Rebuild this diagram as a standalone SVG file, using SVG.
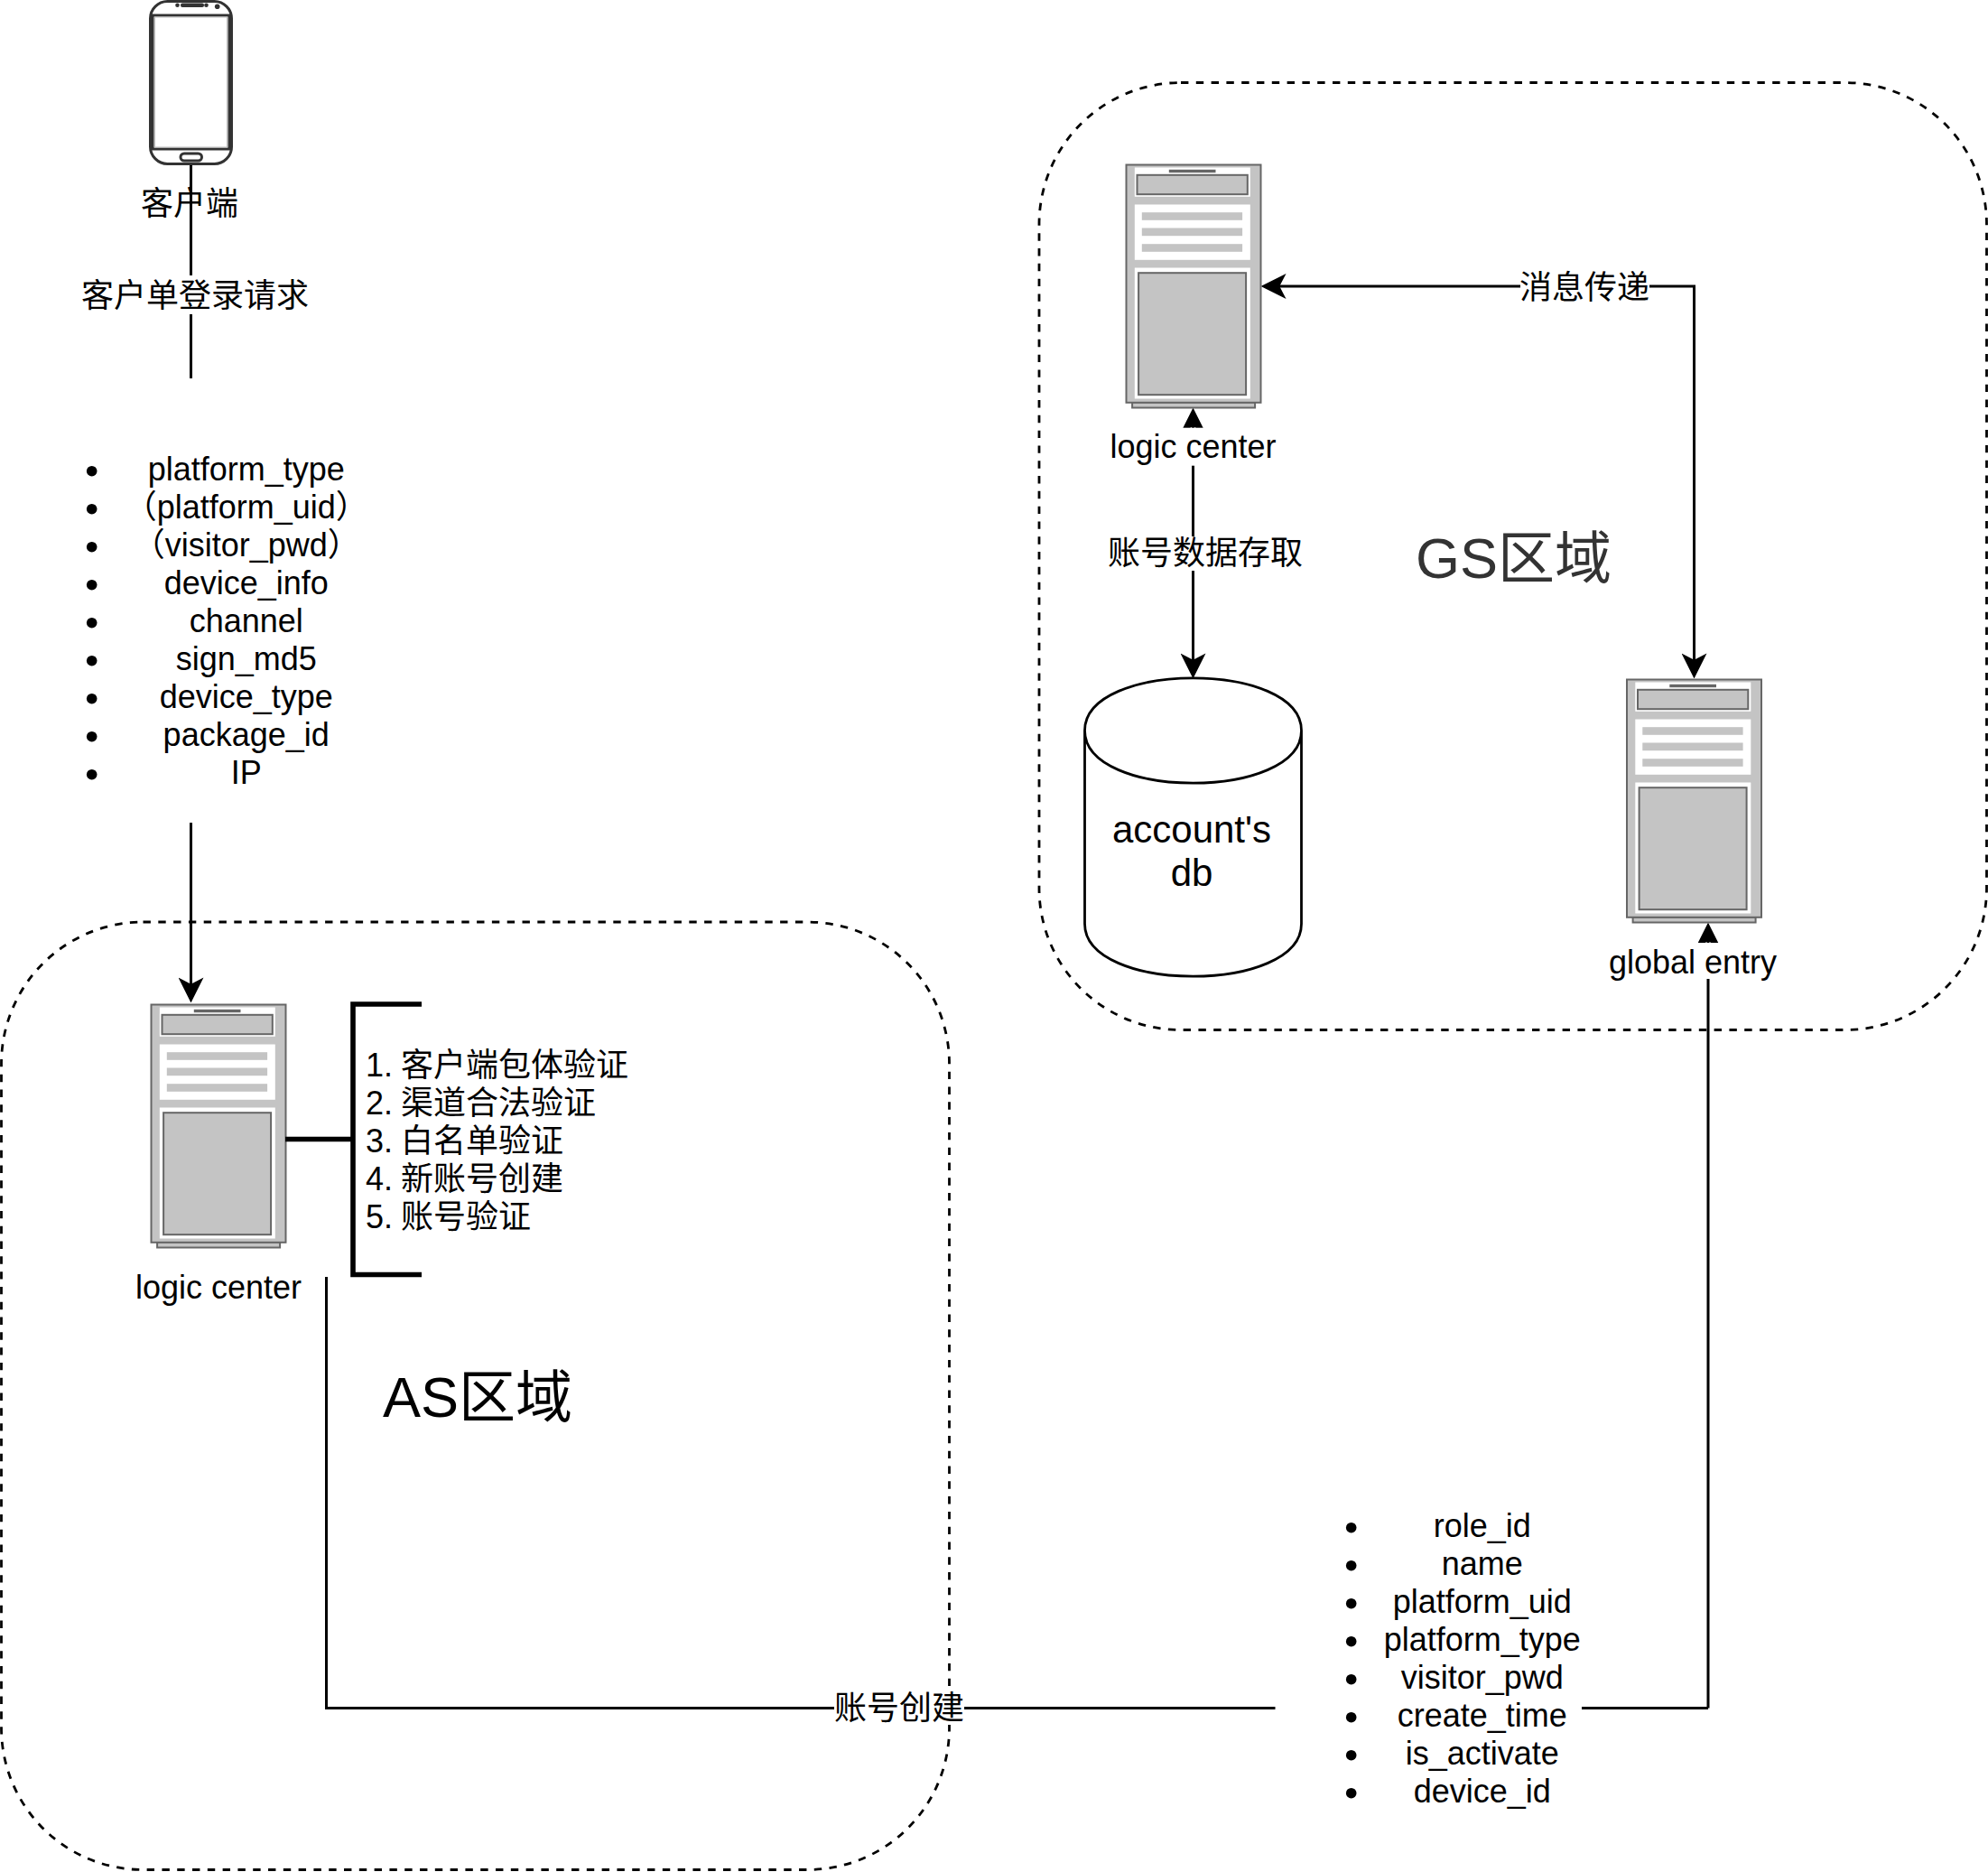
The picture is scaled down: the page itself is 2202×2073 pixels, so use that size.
<svg xmlns="http://www.w3.org/2000/svg" xmlns:xlink="http://www.w3.org/1999/xlink" width="2202" height="2073" viewBox="0 0 2202 2073">
<style>
text{font-family:"Liberation Sans","Noto Sans CJK SC",sans-serif;font-size:36px;fill:#000;text-anchor:middle}
.st{text-anchor:start}
.big{font-size:63px;text-anchor:start}
.db{font-size:42px}
.region{fill:none;stroke:#000;stroke-width:2.8;stroke-dasharray:8.4 8.4}
.conn{fill:none;stroke:#000;stroke-width:3}
.arrow{marker-end:url(#arrow)}
.thick{fill:none;stroke:#000;stroke-width:5.6}
.cover{fill:#fff;stroke:none}
.phone{fill:#fff;stroke:#333;stroke-width:3}
.srv{fill:#c4c4c4;stroke:#666;stroke-width:2}
.srvw{fill:#fff;stroke:none}
.srvb{fill:#c4c4c4;stroke:none}
</style>
<defs>
<marker id="arrow" markerUnits="userSpaceOnUse" markerWidth="28" markerHeight="28" viewBox="0 0 27 27" refX="15" refY="13.5" orient="auto">
<path d="M27,13.5 L0,0 L7,13.5 L0,27 Z" fill="#000"/>
</marker>
<g id="server-shape">
<rect class="srv" x="6.6" y="263" width="136" height="6"/>
<rect class="srv" x="0" y="0" width="149" height="263.3"/>
<rect class="srvw" x="9.3" y="3" width="128" height="32.3"/>
<rect x="47.3" y="5.3" width="51.7" height="3.4" fill="#666"/>
<rect class="srv" x="12" y="11.3" width="122.3" height="21.4"/>
<rect class="srvw" x="9.3" y="44" width="128" height="61.3"/>
<rect class="srvb" x="17.3" y="52.7" width="111.3" height="8.6"/>
<rect class="srvb" x="17.3" y="70" width="111.3" height="8.7"/>
<rect class="srvb" x="17.3" y="87.7" width="111.3" height="8.6"/>
<rect class="srvw" x="9.3" y="114" width="128" height="145"/>
<rect class="srv" x="13.6" y="119.7" width="119" height="135"/>
</g>
</defs>

<g id="regions">
<rect id="gs-region" class="region" x="1151" y="91.5" width="1049.5" height="1049" rx="157" ry="157"/>
<rect id="as-region" class="region" x="1.5" y="1021" width="1050" height="1049.5" rx="157" ry="157"/>
<text class="big" x="1568" y="640" style="fill:#333">GS区域</text>
<text class="big" x="424" y="1569">AS区域</text>
</g>

<g id="connectors">
<path class="conn" d="M211.5,182 V419"/>
<path class="conn arrow" d="M211.5,911 V1098"/>
<path class="conn arrow" d="M1321.5,516 V464"/>
<path class="conn arrow" d="M1321.5,516 V739"/>
<path class="conn arrow" d="M1600,317 H1409"/>
<path class="conn arrow" d="M1600,317 H1876.5 V739"/>
<path class="conn arrow" d="M1892,1891.5 V1034"/>
<path class="conn" d="M1752,1891.5 H1892"/>
<path class="conn" d="M361.5,1414 V1891.5 H1412.5"/>
<rect class="cover" x="1255" y="473.7" width="132" height="42"/>
<rect class="cover" x="1780" y="1044" width="190" height="40"/>
<g id="label-login">
<rect class="cover" x="90" y="305" width="250" height="43"/>
<text x="216" y="340">客户单登录请求</text>
</g>
<g id="label-message">
<rect class="cover" x="1684" y="298" width="143" height="38"/>
<text x="1755" y="331">消息传递</text>
</g>
<g id="label-data">
<rect class="cover" x="1227" y="594" width="215" height="38"/>
<text x="1335" y="625">账号数据存取</text>
</g>
<g id="label-create">
<rect class="cover" x="924" y="1872" width="144" height="38"/>
<text x="996" y="1904">账号创建</text>
</g>
</g>

<g id="client">
<rect class="phone" x="166.5" y="1.5" width="90" height="180" rx="19" ry="19"/>
<rect class="phone" x="169" y="17" width="85" height="148" fill-opacity="0"/>
<rect x="171.5" y="19" width="80" height="144" fill="none" stroke="#bbb" stroke-width="1"/>
<rect class="phone" x="200" y="170" width="23.5" height="8" rx="4" ry="4"/>
<rect x="200" y="3.5" width="26" height="4.5" rx="2" fill="#333"/>
<circle cx="196.5" cy="5.7" r="2.3" fill="#333"/>
<circle cx="228.5" cy="5.7" r="2.3" fill="#333"/>
<circle cx="240.7" cy="7.3" r="2.8" fill="#333"/>
<text x="210" y="238">客户端</text>
</g>

<g id="client-params">
<g fill="#000">
<circle cx="101.7" cy="521.7" r="5.8"/><circle cx="101.7" cy="563.7" r="5.8"/><circle cx="101.7" cy="605.7" r="5.8"/><circle cx="101.7" cy="647.7" r="5.8"/><circle cx="101.7" cy="689.7" r="5.8"/><circle cx="101.7" cy="731.7" r="5.8"/><circle cx="101.7" cy="773.7" r="5.8"/><circle cx="101.7" cy="815.7" r="5.8"/><circle cx="101.7" cy="857.7" r="5.8"/>
</g>
<text x="272.7" y="532">platform_type</text>
<text x="272.7" y="574">（platform_uid）</text>
<text x="272.7" y="616">（visitor_pwd）</text>
<text x="272.7" y="658">device_info</text>
<text x="272.7" y="700">channel</text>
<text x="272.7" y="742">sign_md5</text>
<text x="272.7" y="784">device_type</text>
<text x="272.7" y="826">package_id</text>
<text x="272.7" y="868">IP</text>
</g>

<g id="as-logic-center">
<use xlink:href="#server-shape" href="#server-shape" transform="translate(167.5,1112.5)"/>
<text x="242" y="1438">logic center</text>
</g>

<g id="as-steps">
<path class="thick" d="M316,1261.5 H391 M467,1112 H391 V1411.5 H467"/>
<text class="st" x="405" y="1192">1.</text><text class="st" x="444" y="1192">客户端包体验证</text>
<text class="st" x="405" y="1234">2.</text><text class="st" x="444" y="1234">渠道合法验证</text>
<text class="st" x="405" y="1276">3.</text><text class="st" x="444" y="1276">白名单验证</text>
<text class="st" x="405" y="1318">4.</text><text class="st" x="444" y="1318">新账号创建</text>
<text class="st" x="405" y="1360">5.</text><text class="st" x="444" y="1360">账号验证</text>
</g>

<g id="gs-logic-center">
<use xlink:href="#server-shape" href="#server-shape" transform="translate(1247.5,182.5)"/>
<text x="1321.5" y="507">logic center</text>
</g>

<g id="global-entry">
<use xlink:href="#server-shape" href="#server-shape" transform="translate(1802,752.5)"/>
<text x="1875" y="1078">global entry</text>
</g>

<g id="accounts-db">
<path d="M1201.5,809 C1201.5,731.5 1441.5,731.5 1441.5,809 V1023 C1441.5,1100.5 1201.5,1100.5 1201.5,1023 Z M1201.5,809 C1201.5,886.5 1441.5,886.5 1441.5,809" fill="#fff" stroke="#000" stroke-width="2.8"/>
<text class="db" x="1320" y="933">account's</text>
<text class="db" x="1320" y="981">db</text>
</g>

<g id="role-params">
<g fill="#000">
<circle cx="1496.7" cy="1691.7" r="5.8"/><circle cx="1496.7" cy="1733.7" r="5.8"/><circle cx="1496.7" cy="1775.7" r="5.8"/><circle cx="1496.7" cy="1817.7" r="5.8"/><circle cx="1496.7" cy="1859.7" r="5.8"/><circle cx="1496.7" cy="1901.7" r="5.8"/><circle cx="1496.7" cy="1943.7" r="5.8"/><circle cx="1496.7" cy="1985.7" r="5.8"/>
</g>
<text x="1641.7" y="1702">role_id</text>
<text x="1641.7" y="1744">name</text>
<text x="1641.7" y="1786">platform_uid</text>
<text x="1641.7" y="1828">platform_type</text>
<text x="1641.7" y="1870">visitor_pwd</text>
<text x="1641.7" y="1912">create_time</text>
<text x="1641.7" y="1954">is_activate</text>
<text x="1641.7" y="1996">device_id</text>
</g>
</svg>
